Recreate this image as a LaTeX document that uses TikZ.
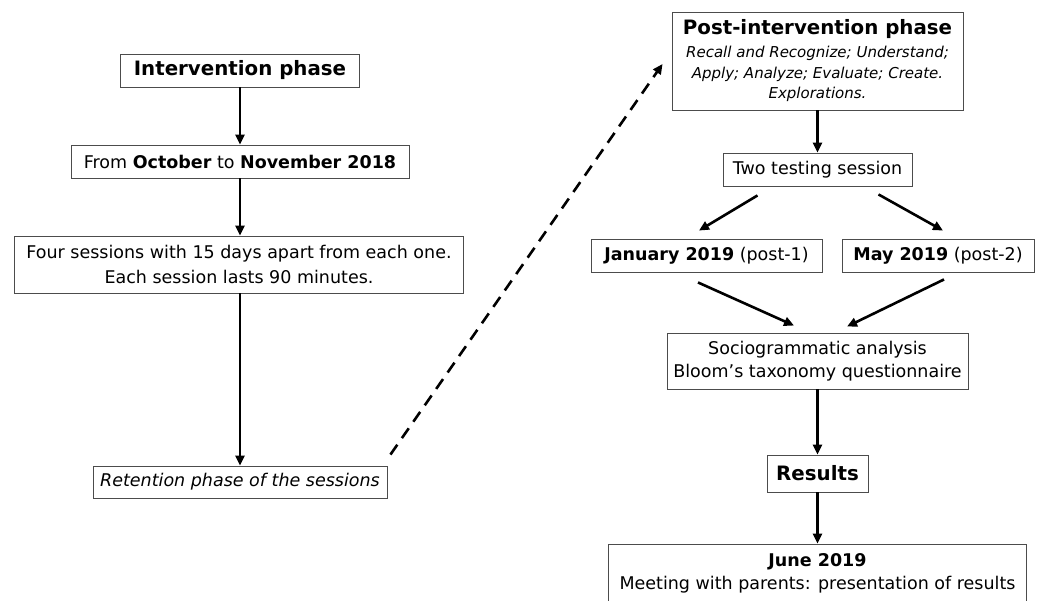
\documentclass[tikz,border=0pt]{standalone}
\usepackage{fontspec}
\setmainfont{DejaVu Sans}
\usetikzlibrary{arrows.meta,calc}
\newcommand\rgfont{\fontsize{17.5}{22.7}\selectfont}
\newcommand\ttlfont{\fontsize{19.8}{24}\selectfont\bfseries}
\newcommand\itfont{\fontsize{15}{20.5}\selectfont\itshape}
\begin{document}
\begin{tikzpicture}[x=1pt,y=-1pt,
  box/.style={draw=black!70, line width=0.9pt, inner sep=0pt, align=center, font=\rgfont, text=black},
  arr/.style={line width=2.6pt, -{Triangle[length=10pt,width=9pt]}},
  darr/.style={arr, dash pattern=on 12pt off 8pt},
]
\useasboundingbox (0,0) rectangle (1043,601);

% left column
\node[box, minimum width=239pt, minimum height=33pt, font=\ttlfont] (B1) at (240,70.5) {Intervention phase};
\node[box, minimum width=338pt, minimum height=33pt] (B2) at (240,161.5) {From \textbf{October} to \textbf{November 2018}};
\node[box, minimum width=449pt, minimum height=57pt, font=\fontsize{17.5}{25}\selectfont] (B3) at (239,264.5) {Four sessions with 15 days apart from each one.\\Each session lasts 90 minutes.};
\node[box, minimum width=294pt, minimum height=32pt] (B4) at (240,482) {\itshape Retention phase of the sessions};

% right column
\node[box, minimum width=291pt, minimum height=98pt, font=\itfont] (P) at (817.5,61) {{\ttlfont\upshape Post-intervention phase}\\[2.5pt]Recall and Recognize; Understand;\\Apply; Analyze; Evaluate; Create.\\Explorations.};
\node[box, minimum width=189pt, minimum height=33pt] (T) at (817.5,169.5) {Two testing session};
\node[box, minimum width=231pt, minimum height=33pt] (J) at (706.5,255.5) {\textbf{January 2019} (post-1)};
\node[box, minimum width=192pt, minimum height=33pt] (M) at (938,255.5) {\textbf{May 2019} (post-2)};
\node[box, minimum width=301pt, minimum height=56pt] (S) at (817.5,361) {Sociogrammatic analysis\\Bloom’s taxonomy questionnaire};
\node[box, minimum width=101pt, minimum height=37pt, font=\ttlfont] (R) at (817.5,473.5) {Results};
\node[box, minimum width=418pt, minimum height=58pt] (Jn) at (817.5,573) {\textbf{June 2019}\\Meeting with parents: presentation of results};

% connector end points
\coordinate (dA) at ($(B4.north east)+(3,-11)$);
\coordinate (dB) at ($(P.west)+(-9,3)$);
\coordinate (tj1) at ($(T.south)+(-60,9)$);
\coordinate (tj2) at ($(J.north)+(-7.5,-8)$);
\coordinate (tm1) at ($(T.south)+(61,8)$);
\coordinate (tm2) at ($(M.north)+(5,-8)$);
\coordinate (js1) at ($(J.south)+(-8.5,10)$);
\coordinate (js2) at ($(S.north)+(-23.5,-7)$);
\coordinate (ms1) at ($(M.south)+(6,7)$);
\coordinate (ms2) at ($(S.north)+(29.5,-6)$);

% connectors
\draw[arr] (B1.south) -- (B2.north);
\draw[arr] (B2.south) -- (B3.north -| B2.south);
\draw[arr] (B3.south -| B2.south) -- (B4.north);
\draw[darr] (dA) -- (dB);
\draw[arr] (P.south) -- (T.north);
\draw[arr] (tj1) -- (tj2);
\draw[arr] (tm1) -- (tm2);
\draw[arr] (js1) -- (js2);
\draw[arr] (ms1) -- (ms2);
\draw[arr] (S.south) -- (R.north);
\draw[arr] (R.south) -- (Jn.north);
\end{tikzpicture}
\end{document}
